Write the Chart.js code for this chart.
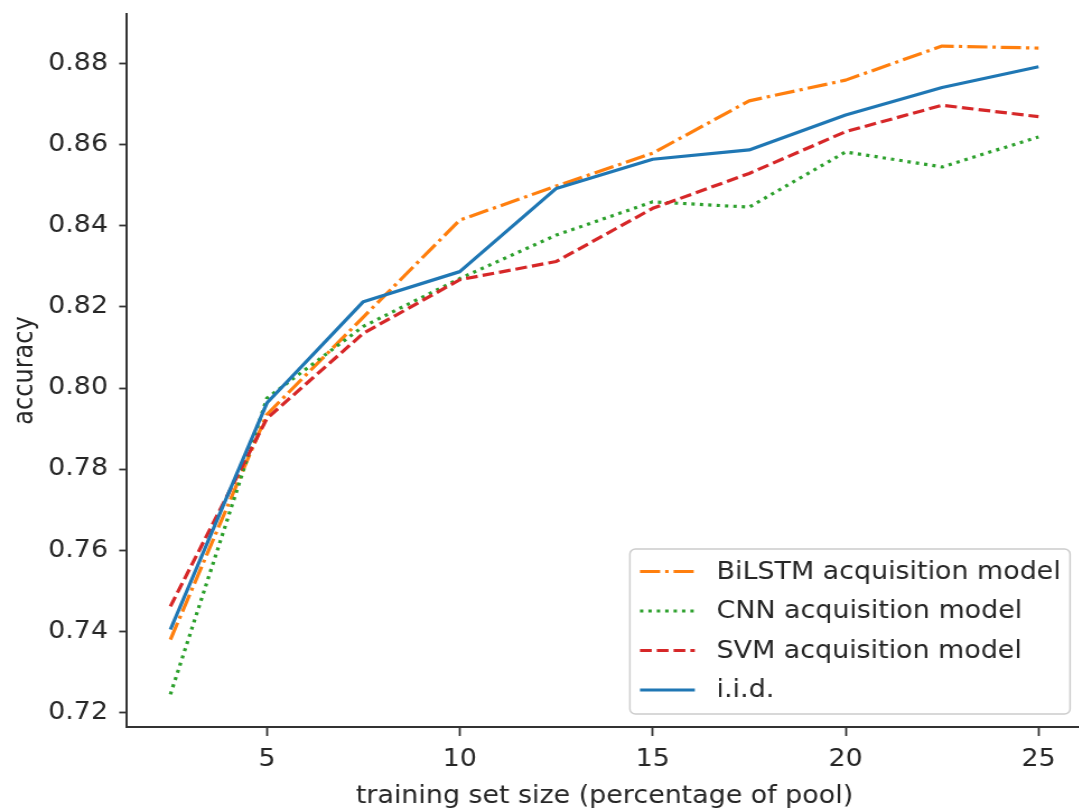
<!DOCTYPE html>
<html>
<head>
<meta charset="utf-8">
<script src="https://cdn.jsdelivr.net/npm/chart.js@4/dist/chart.umd.min.js"></script>
<style>
  html, body { margin: 0; padding: 0; background: #fff; overflow: hidden; }
  /* the source figure is a bit wider than it is tall, so stretch horizontally */
  #wrap { width: 980px; height: 809px; transform: scaleX(1.12); transform-origin: 0 0; }
</style>
</head>
<body>
<div id="wrap"><canvas id="grafico" width="980" height="809"></canvas></div>
<script>
// training set size (% of pool)
const tamanhos = [2.5, 5, 7.5, 10, 12.5, 15, 17.5, 20, 22.5, 25];

// accuracy per acquisition model
const bilstm = [0.738, 0.7935, 0.8175, 0.8414, 0.8498, 0.8579, 0.8708, 0.8759, 0.8843, 0.8838];
const cnn    = [0.7245, 0.7975, 0.8152, 0.8270, 0.8377, 0.8459, 0.8446, 0.8582, 0.8545, 0.8619];
const svm    = [0.7462, 0.7925, 0.8135, 0.8267, 0.8312, 0.8443, 0.8529, 0.8632, 0.8697, 0.8669];
const iid    = [0.7405, 0.7963, 0.8213, 0.8287, 0.8492, 0.8564, 0.8587, 0.8673, 0.8741, 0.8792];

const nomes = ['BiLSTM acquisition model', 'CNN acquisition model', 'SVM acquisition model', 'i.i.d.'];

const ticksX = [5, 10, 15, 20, 25];
const ticksY = [0.72, 0.74, 0.76, 0.78, 0.80, 0.82, 0.84, 0.86, 0.88];

const pontos = serie => serie.map((v, i) => ({ x: tamanhos[i], y: v }));

const fonte = 'DejaVu Sans';
const corTexto = '#262626';
const corEixo = '#333333';

// Legenda desenhada à mão (caixa estilo matplotlib)
const legenda = {
  id: 'legenda',
  afterDatasetsDraw(chart) {
    const ctx = chart.ctx;
    const area = chart.chartArea;
    const w = 393, h = 165;
    const x0 = area.right - 10.6 - w;
    const y0 = area.bottom - 13 - h;

    ctx.save();
    ctx.beginPath();
    ctx.roundRect(x0, y0, w, h, 5);
    ctx.fillStyle = 'rgba(255,255,255,0.8)';
    ctx.fill();
    ctx.lineWidth = 1.5;
    ctx.strokeStyle = '#cccccc';
    ctx.stroke();

    ctx.font = '24px "' + fonte + '"';
    ctx.textBaseline = 'middle';
    ctx.textAlign = 'left';
    chart.data.datasets.forEach((ds, i) => {
      const y = y0 + 22.5 + i * 39.5;
      ctx.beginPath();
      ctx.setLineDash(ds.borderDash || []);
      ctx.lineCap = 'butt';
      ctx.strokeStyle = ds.borderColor;
      ctx.lineWidth = ds.borderWidth;
      ctx.moveTo(x0 + 9, y);
      ctx.lineTo(x0 + 58, y);
      ctx.stroke();
      ctx.setLineDash([]);
      ctx.fillStyle = corTexto;
      ctx.fillText(ds.label, x0 + 77.4, y + 1);
    });
    ctx.restore();
  }
};

new Chart(document.getElementById('grafico'), {
  type: 'line',
  data: {
    datasets: [
      { label: nomes[0], data: pontos(bilstm), borderColor: '#ff7f0e', borderDash: [18, 4.5, 3, 4.5], order: 3 },
      { label: nomes[1], data: pontos(cnn),    borderColor: '#2ca02c', borderDash: [3, 4.5], order: 2 },
      { label: nomes[2], data: pontos(svm),    borderColor: '#d62728', borderDash: [10.5, 4.5], order: 1 },
      { label: nomes[3], data: pontos(iid),    borderColor: '#1f77b4', order: 0 }
    ].map(ds => Object.assign(ds, {
      borderWidth: 3.2,
      pointRadius: 0,
      fill: false,
      tension: 0,
      borderCapStyle: 'butt',
      borderJoinStyle: 'round'
    }))
  },
  options: {
    responsive: false,
    animation: false,
    devicePixelRatio: 1,
    layout: { padding: { left: 0, top: 14, right: 14, bottom: 0 } },
    plugins: {
      legend: { display: false },
      tooltip: { enabled: false }
    },
    scales: {
      x: {
        type: 'linear',
        min: 1.375,
        max: 26.125,
        afterBuildTicks: s => { s.ticks = ticksX.map(v => ({ value: v })); },
        afterFit: s => { s.height = 82; s.paddingLeft = 0; s.paddingRight = 0; },
        grid: { drawOnChartArea: false, drawTicks: true, tickLength: 9, tickWidth: 1.8, tickColor: corEixo },
        border: { display: true, color: corEixo, width: 2 },
        ticks: { color: corTexto, padding: 9, font: { family: fonte, size: 24 }, maxRotation: 0 },
        title: {
          display: true,
          text: 'training set size (percentage of pool)',
          color: corTexto,
          font: { family: fonte, size: 24 },
          padding: { top: 0, bottom: -2 }
        }
      },
      y: {
        min: 0.71646,
        max: 0.8922,
        afterBuildTicks: s => { s.ticks = ticksY.map(v => ({ value: v })); },
        afterFit: s => { s.width = 113.4; s.paddingTop = 0; s.paddingBottom = 0; },
        grid: { drawOnChartArea: false, drawTicks: true, tickLength: 7, tickWidth: 1.8, tickColor: corEixo },
        border: { display: true, color: corEixo, width: 2 },
        ticks: {
          color: corTexto,
          padding: 10,
          font: { family: fonte, size: 24 },
          callback: v => v.toFixed(2)
        },
        title: {
          display: true,
          text: 'accuracy',
          color: corTexto,
          font: { family: fonte, size: 24 },
          padding: { top: 8, bottom: 0 }
        }
      }
    }
  },
  plugins: [legenda]
});
</script>
</body>
</html>
